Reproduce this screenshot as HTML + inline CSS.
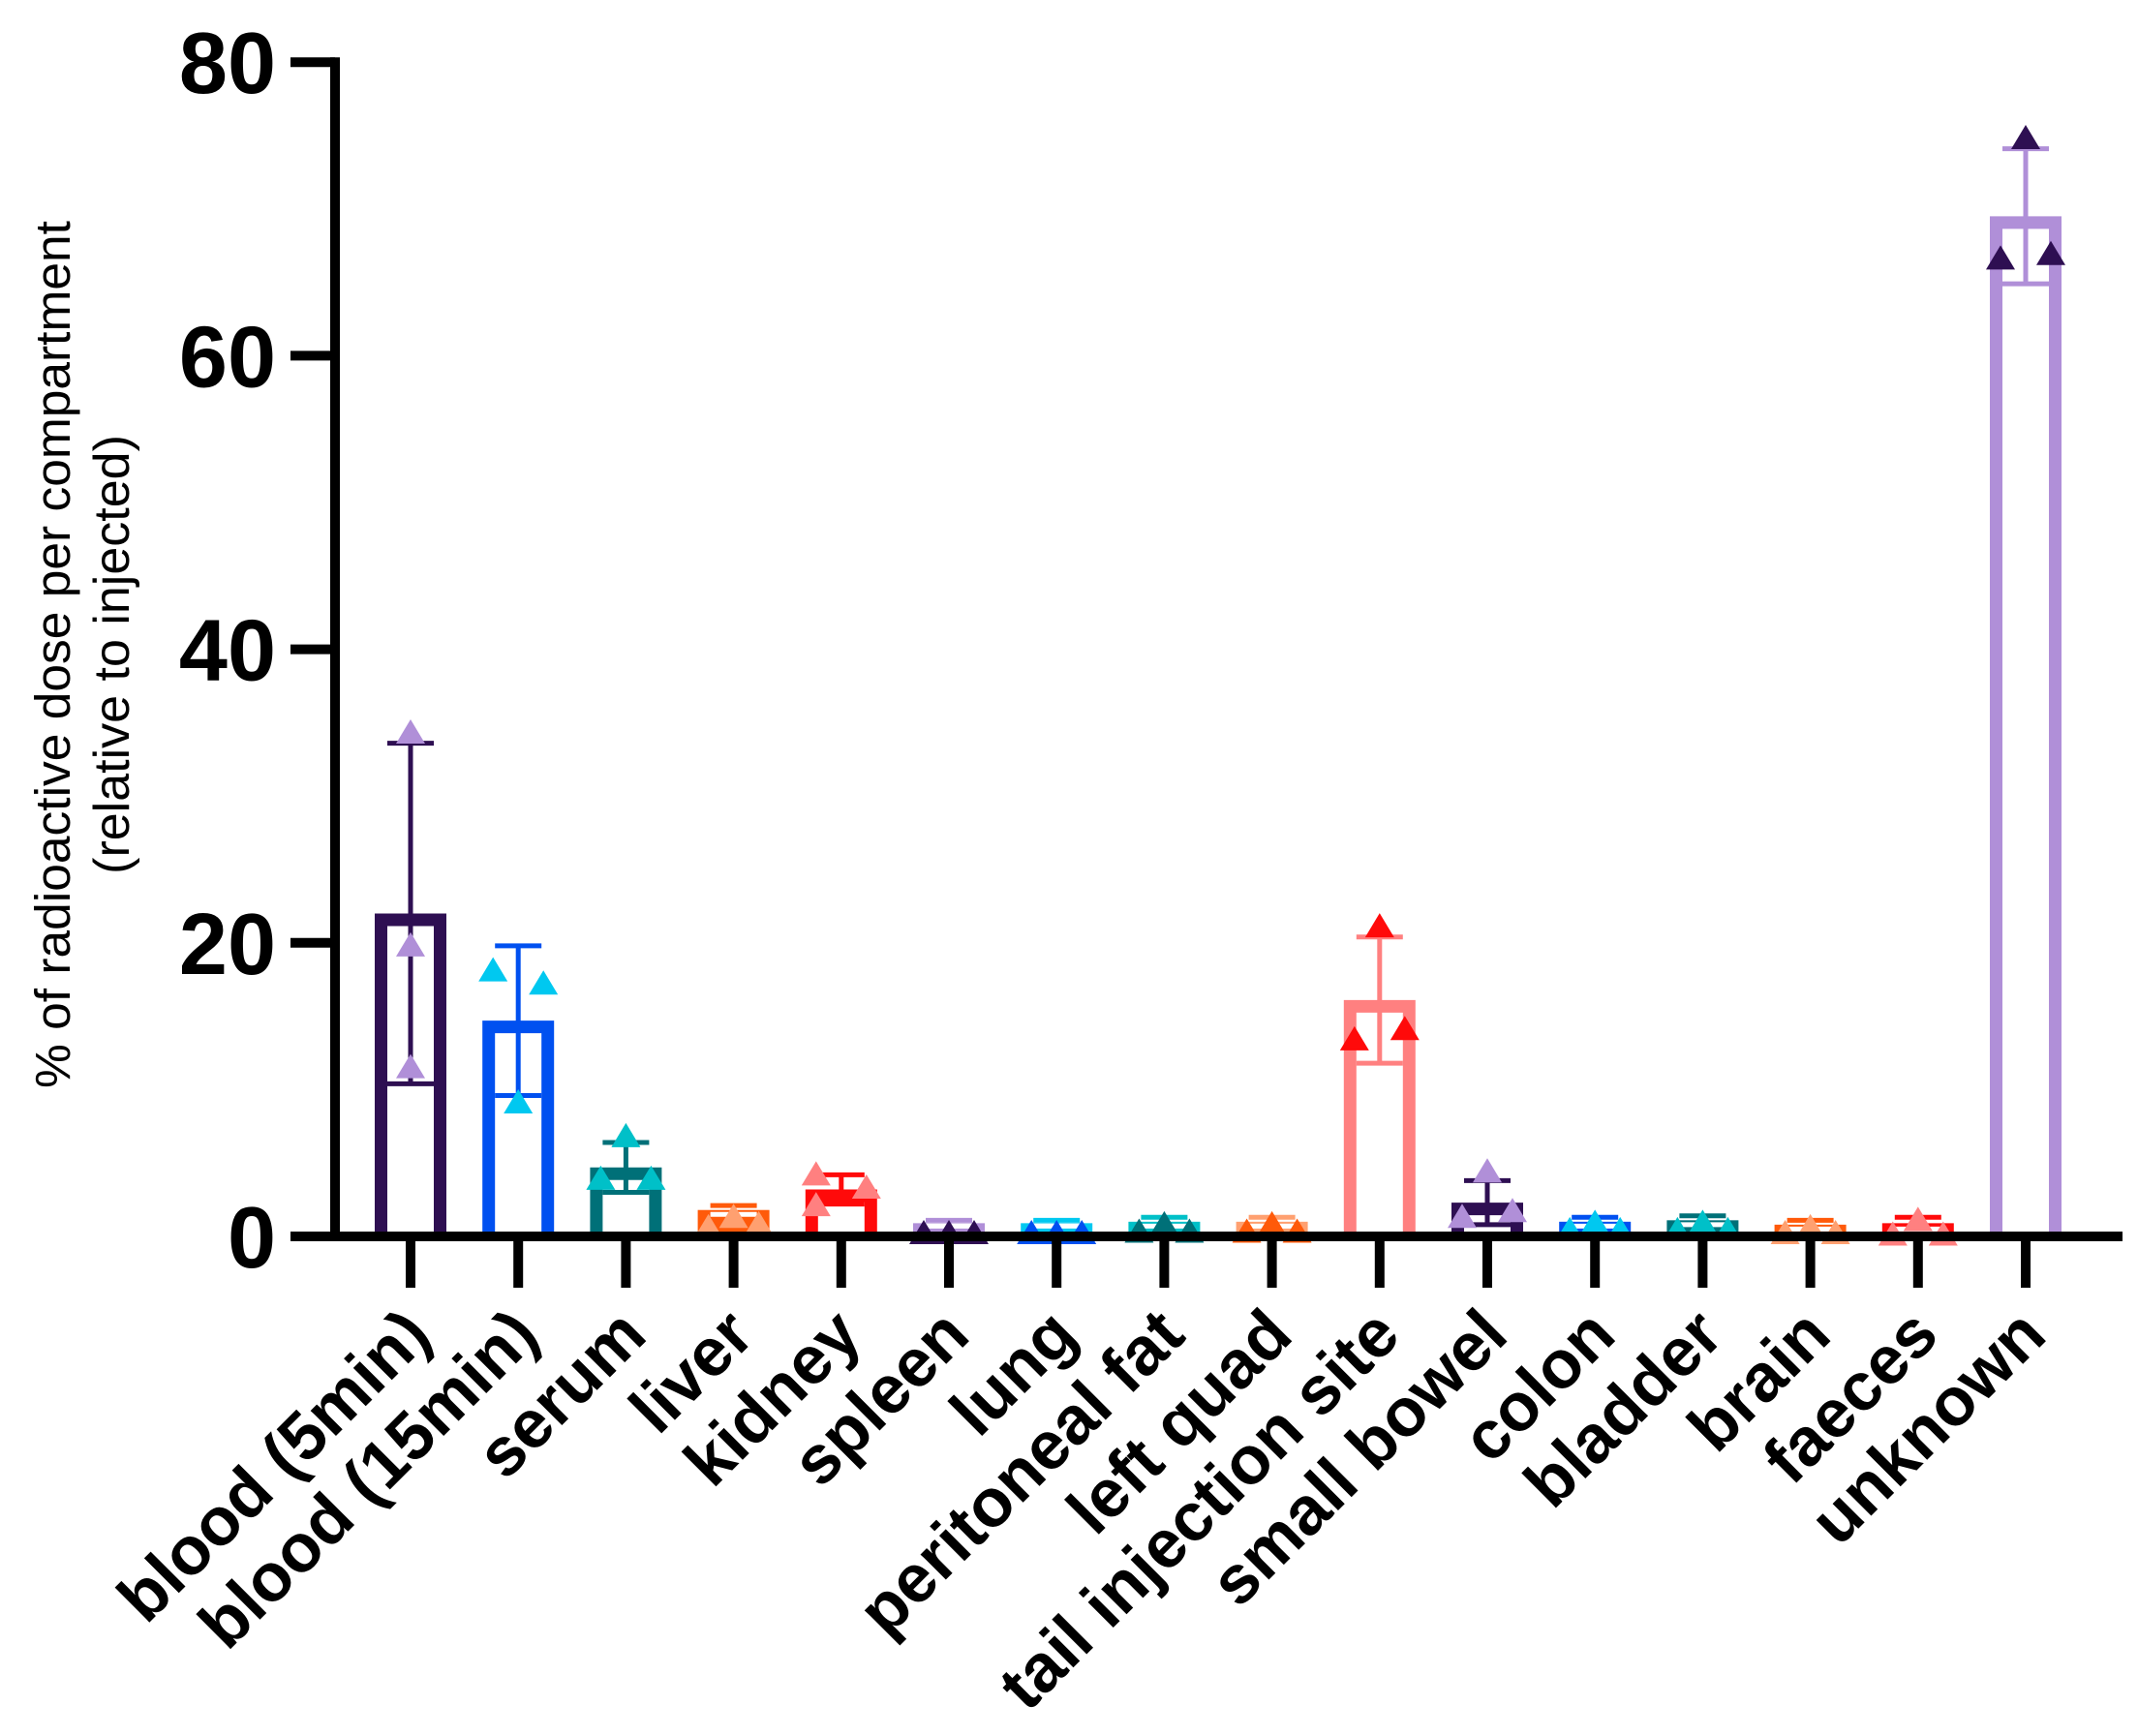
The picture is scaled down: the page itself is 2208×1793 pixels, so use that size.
<!DOCTYPE html>
<html><head><meta charset="utf-8"><style>
html,body{margin:0;padding:0;background:#fff;}
svg{display:block;}
text{font-family:"Liberation Sans",Arial,sans-serif;}
</style></head><body>
<svg id="chart" width="2208" height="1793" viewBox="0 0 2208 1793" xmlns="http://www.w3.org/2000/svg">
<g id="y-title">
<text x="0" y="0" transform="translate(72,676) rotate(-90)" text-anchor="middle" font-size="51" textLength="896" lengthAdjust="spacingAndGlyphs">% of radioactive dose per compartment</text>
<text x="0" y="0" transform="translate(133,676) rotate(-90)" text-anchor="middle" font-size="52">(relative to injected)</text>
</g>
<g id="plot"></g>
</svg>
<script>
const categories = ["blood (5min)","blood (15min)","serum","liver","kidney","spleen","lung","peritoneal fat","left quad","tail injection site","small bowel","colon","bladder","brain","faeces","unknown"];
const means = [22.0,14.7,4.7,1.8,3.2,0.9,0.9,1.0,1.0,16.1,2.3,1.0,1.1,0.8,0.9,69.5];
const sds = [11.6,5.1,1.7,0.3,1.0,0.2,0.2,0.3,0.3,4.3,1.5,0.3,0.3,0.3,0.4,4.6];
const pointsA = [11.5,18.1,3.9,0.6,4.2,0.2,0.2,0.3,0.3,13.4,1.3,0.4,0.4,0.2,0.1,66.6];
const pointsB = [34.3,9.1,6.8,1.3,2.1,0.2,0.2,0.8,0.8,21.1,4.4,0.9,0.9,0.6,1.1,74.8];
const pointsC = [19.8,17.2,3.9,0.8,3.3,0.2,0.2,0.3,0.3,14.1,1.7,0.4,0.4,0.2,0.1,66.9];
const jitterA = [0,-1,-1,-1,-1,-1,-1,-1,-1,-1,-1,-1,-1,-1,-1,-1];
const jitterB = [0,0,0,0,-1,0,0,0,0,0,0,0,0,0,0,0];
const jitterC = [0,1,1,1,1,1,1,1,1,1,1,1,1,1,1,1];
const barColors = ["#2e0f52","#0050f0","#007078","#ff5a0a","#ff0a0a","#b08fd8","#00c8f0","#00c0c8","#ffa070","#ff8080","#2e0f52","#0050f0","#007078","#ff5a0a","#ff0a0a","#b08fd8"];
const pointColors = ["#b08fd8","#00c8f0","#00c0c8","#ffa070","#ff8080","#2e0f52","#0050f0","#007078","#ff5a0a","#ff0a0a","#b08fd8","#00c8f0","#00c0c8","#ffa070","#ff8080","#2e0f52"];
const yTicks = [0,20,40,60,80];

const NS = "http://www.w3.org/2000/svg";
const plot = document.getElementById("plot");
const Y0 = 1277, PX = 15.16, X0 = 424, DX = 111.2, BW = 74, SW = 13;
function y(v){ return Y0 - v*PX; }
function x(i){ return X0 + i*DX; }
function mk(tag, attrs, parent){ const e=document.createElementNS(NS,tag); for(const k in attrs) e.setAttribute(k,attrs[k]); (parent||plot).appendChild(e); return e; }

const bars = mk("g",{});


categories.forEach((c,i)=>{
  const g = mk("g",{},bars);
  
  
  const col = barColors[i];
  const top = y(means[i]), h = Y0 - top, cx = x(i);
  const solid = h <= SW*2.6;
  if (solid) {
    mk("rect",{x:cx-BW/2,y:top,width:BW,height:h,fill:col},g);
  } else {
    mk("path",{d:`M${cx-BW/2+SW/2},${Y0} V${top+SW/2} H${cx+BW/2-SW/2} V${Y0}`,fill:"#fff",stroke:col,"stroke-width":SW},g);
  }
  const hi = y(means[i]+sds[i]), lo = y(Math.max(0,means[i]-sds[i]));
  mk("line",{x1:cx,x2:cx,y1:hi,y2:lo,stroke:col,"stroke-width":5},g);
  mk("line",{x1:cx-24,x2:cx+24,y1:hi,y2:hi,stroke:col,"stroke-width":5},g);
  mk("line",{x1:cx-24,x2:cx+24,y1:lo,y2:lo,stroke:solid?"#fff":col,"stroke-width":5},g);
  [[pointsA,jitterA],[pointsB,jitterB],[pointsC,jitterC]].forEach(([p,j])=>{
    const px = cx + j[i]*26, py = y(p[i]);
    const t = mk("polygon",{points:`${px},${py-14} ${px-15},${py+11} ${px+15},${py+11}`,fill:pointColors[i]},g);
    
    
  });
});

const ax = mk("g",{});


mk("line",{x1:346,x2:346,y1:y(80)-5,y2:Y0+5,stroke:"#000","stroke-width":10},ax);
mk("line",{x1:300,x2:2192,y1:Y0,y2:Y0,stroke:"#000","stroke-width":10},ax);
yTicks.forEach(v=>{
  mk("line",{x1:300,x2:346,y1:y(v),y2:y(v),stroke:"#000","stroke-width":10},ax);
  const t = mk("text",{x:285,y:y(v)+32,"text-anchor":"end","font-size":90,"font-weight":"bold"},ax);
  t.textContent = v;
  
  
});
categories.forEach((c,i)=>{
  mk("line",{x1:x(i),x2:x(i),y1:Y0,y2:1330,stroke:"#000","stroke-width":10},ax);
  const bx = x(i)+24, by = 1382;
  const t = mk("text",{x:0,y:0,transform:`translate(${bx},${by}) rotate(-45)`,"text-anchor":"end","font-size":70,"font-weight":"bold"},ax);
  t.textContent = c;
  
  
});
</script>
</body></html>
